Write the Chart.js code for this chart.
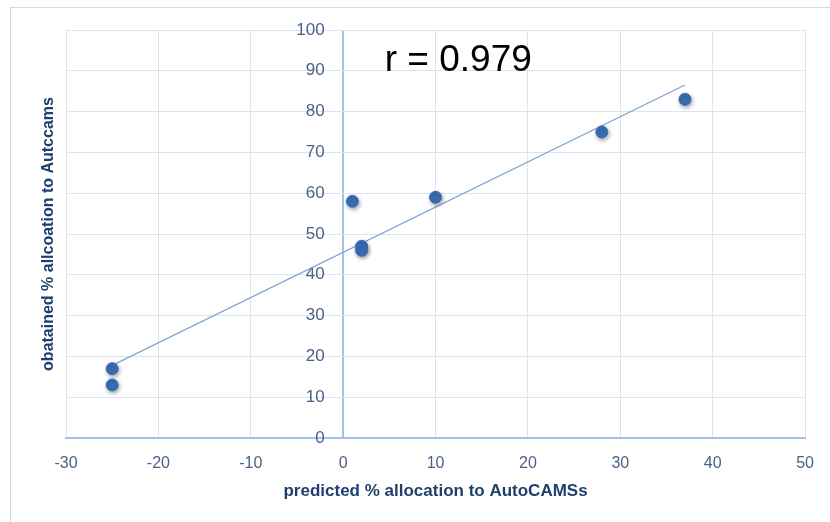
<!DOCTYPE html>
<html>
<head>
<meta charset="utf-8">
<script src="https://cdn.jsdelivr.net/npm/chart.js@4.4.1/dist/chart.umd.min.js"></script>
<style>
  body { margin: 0; background: #fff; }
  #wrap { position: relative; width: 830px; height: 522px; overflow: hidden; }
  #frame { position: absolute; left: 10px; top: 7px; width: 900px; height: 600px; border: 1px solid #cddcf0; }
  canvas { position: absolute; left: 0; top: 0; }
</style>
</head>
<body>
<div id="wrap">
  <div id="frame"></div>
  <canvas id="scatterChart" width="830" height="522"></canvas>
</div>
<script>
// values
const predicted = [-25, -25, 1, 2, 2, 10, 28, 37];
const obtained = [17, 13, 58, 47, 46, 59, 75, 83];
const trendX = [-25, 37];
const trendY = [17.8, 86.5];
const rLabel = 'r = 0.979';
const rLabelAt = [4.5, 92.5];

const xTitle = 'predicted % allocation to AutoCAMSs';
const yTitle = 'obatained % allcoation to Autccams';

const gridColor = '#d9e5f5';
const axisColor = '#a6c1e7';
const tickColor = '#4b6185';
const titleColor = '#1f3f6e';
const fontFamily = '"Liberation Sans", Arial, sans-serif';

// y labels sit a little left of the vertical axis at x = 0
const yLabelsAtX = -2;

const pointShadow = {
  id: 'pointShadow',
  beforeDatasetDraw(chart, args) {
    if (args.index !== 0) return;
    const ctx = chart.ctx;
    ctx.save();
    ctx.shadowColor = 'rgba(0, 0, 0, 0.35)';
    ctx.shadowBlur = 4;
    ctx.shadowOffsetX = 1;
    ctx.shadowOffsetY = 2;
  },
  afterDatasetDraw(chart, args) {
    if (args.index === 0) chart.ctx.restore();
  }
};

const rText = {
  id: 'rText',
  afterDraw(chart) {
    const ctx = chart.ctx;
    const x = chart.scales.x.getPixelForValue(rLabelAt[0]);
    const y = chart.scales.y.getPixelForValue(rLabelAt[1]);
    ctx.save();
    ctx.font = '37px ' + fontFamily;
    ctx.fillStyle = '#000';
    ctx.textAlign = 'left';
    ctx.textBaseline = 'middle';
    ctx.fillText(rLabel, x, y);
    ctx.restore();
  }
};

const ctx = document.getElementById('scatterChart').getContext('2d');
new Chart(ctx, {
  type: 'scatter',
  data: {
    datasets: [
      {
        label: 'obtained',
        data: predicted.map((v, i) => ({ x: v, y: obtained[i] })),
        backgroundColor: '#3a6db5',
        borderColor: '#3a6db5',
        pointRadius: 6,
        pointHoverRadius: 6,
        order: 1
      },
      {
        label: 'trend',
        type: 'line',
        data: trendX.map((v, i) => ({ x: v, y: trendY[i] })),
        borderColor: '#7ea2d6',
        borderWidth: 1.2,
        pointRadius: 0,
        fill: false,
        order: 2
      }
    ]
  },
  plugins: [pointShadow, rText],
  options: {
    responsive: false,
    animation: false,
    events: [],
    layout: { padding: { left: 10, top: 30, right: 22, bottom: 0 } },
    plugins: {
      legend: { display: false },
      tooltip: { enabled: false }
    },
    scales: {
      x: {
        type: 'linear',
        position: 'bottom',
        min: -30,
        max: 50,
        ticks: {
          stepSize: 10,
          color: tickColor,
          padding: 16,
          font: { family: fontFamily, size: 16 }
        },
        grid: {
          color: c => (c.tick && c.tick.value === 0 ? axisColor : gridColor),
          lineWidth: c => (c.tick && c.tick.value === 0 ? 2 : 1),
          drawTicks: false
        },
        border: { display: true, color: axisColor, width: 2 },
        title: {
          display: true,
          text: xTitle,
          color: titleColor,
          font: { family: fontFamily, size: 17, weight: 'bold' },
          padding: { top: 0, bottom: 20 }
        },
        afterFit(scale) { scale.height = 84; }
      },
      y: {
        type: 'linear',
        position: 'left',
        min: 0,
        max: 100,
        ticks: { display: false, stepSize: 10 },
        grid: { color: gridColor, lineWidth: 1, drawTicks: false },
        border: { display: false },
        title: {
          display: true,
          text: yTitle,
          color: titleColor,
          font: { family: fontFamily, size: 16, weight: 'bold' },
          padding: { top: 29, bottom: 0 }
        },
        afterFit(scale) { scale.width = 56; }
      },
      yc: {
        type: 'linear',
        position: { x: yLabelsAtX },
        min: 0,
        max: 100,
        ticks: {
          stepSize: 10,
          color: tickColor,
          padding: 0,
          font: { family: fontFamily, size: 17 }
        },
        grid: { display: false, drawTicks: false },
        border: { display: false },
        afterFit(scale) { scale.width = 0; }
      }
    }
  }
});
</script>
</body>
</html>
